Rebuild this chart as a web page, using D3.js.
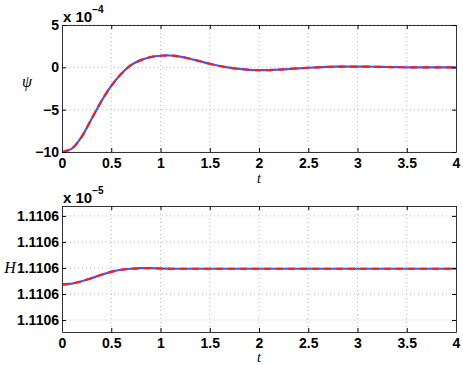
<!DOCTYPE html>
<html>
<head>
<meta charset="utf-8">
<script src="https://cdn.jsdelivr.net/npm/d3@7"></script>
<style>
  body { margin: 0; background: #fff; }
  .tick text { font-family: "Liberation Sans", Arial, sans-serif; font-weight: bold; font-size: 14px; fill: #000; }
  .grid line { stroke: #bbb; stroke-dasharray: 1,3; }
</style>
</head>
<body>
<div id="chart"></div>
<script>
// time samples shared by both panels
const tValues = [0, 0.1, 0.2, 0.3, 0.4, 0.5, 0.6, 0.7, 0.8, 0.9, 1.0, 1.1, 1.2, 1.3, 1.4, 1.5, 1.6, 1.7, 1.8, 1.9,
                 2.0, 2.1, 2.2, 2.3, 2.4, 2.5, 2.6, 2.7, 2.8, 2.9, 3.0, 3.1, 3.2, 3.3, 3.4, 3.5, 3.6, 3.7, 3.8, 3.9, 4.0];
// psi, in units of 1e-4
const psiValues = [-10, -9.6, -8.2, -6.1, -4.0, -2.2, -0.8, 0.25, 0.85, 1.2, 1.37, 1.4, 1.27, 1.02, 0.72, 0.42, 0.16, -0.04, -0.19, -0.29,
                   -0.33, -0.32, -0.27, -0.2, -0.12, -0.05, 0.0, 0.05, 0.08, 0.09, 0.09, 0.08, 0.06, 0.04, 0.02, 0.0, -0.01, -0.01, -0.01, 0, 0];
// H, in units of 1e-5
const hValues = [1.11059936, 1.11059940, 1.11059949, 1.11059961, 1.11059974, 1.11059985, 1.11059993, 1.11059997, 1.11059999, 1.11059999,
                 1.11059998, 1.11059997, 1.11059997, 1.11059997, 1.11059997, 1.11059997, 1.11059997, 1.11059997, 1.11059997, 1.11059997,
                 1.11059997, 1.11059997, 1.11059997, 1.11059997, 1.11059997, 1.11059997, 1.11059997, 1.11059997, 1.11059997, 1.11059997,
                 1.11059997, 1.11059997, 1.11059997, 1.11059997, 1.11059997, 1.11059997, 1.11059997, 1.11059997, 1.11059997, 1.11059997, 1.11059997];

const xTicks = [0, 0.5, 1, 1.5, 2, 2.5, 3, 3.5, 4];
const psiTicks = [-10, -5, 0, 5];
const hTicks = [1.110598, 1.110599, 1.1106, 1.110601, 1.110602];

const width = 463, height = 365;
const left = 62, right = 456;

const svg = d3.select('#chart').append('svg')
    .attr('width', width)
    .attr('height', height);

const x = d3.scaleLinear().domain([0, 4]).range([left, right]);

function panel(opts) {
    const y = d3.scaleLinear().domain(opts.domain).range([opts.bottom, opts.top]);
    const g = svg.append('g');

    // dotted grid
    const grid = g.append('g').attr('class', 'grid');
    grid.selectAll('.gx').data(xTicks.slice(1, -1)).join('line')
        .attr('x1', d => x(d)).attr('x2', d => x(d))
        .attr('y1', opts.top).attr('y2', opts.bottom);
    grid.selectAll('.gy').data(opts.ticks).join('line')
        .attr('x1', left).attr('x2', right)
        .attr('y1', d => y(d)).attr('y2', d => y(d));

    // data: blue solid under red dashed
    const line = d3.line().x((d, i) => x(tValues[i])).y(d => y(d)).curve(d3.curveCatmullRom);
    g.append('path').datum(opts.values)
        .attr('fill', 'none').attr('stroke', '#3b5bff').attr('stroke-width', 2.2)
        .attr('d', line);
    g.append('path').datum(opts.values)
        .attr('fill', 'none').attr('stroke', '#ff1a1a').attr('stroke-width', 2.2)
        .attr('stroke-dasharray', '7,5')
        .attr('d', line);

    // axes with inward ticks on all sides
    g.append('g').attr('transform', `translate(0,${opts.bottom})`)
        .call(d3.axisBottom(x).tickValues(xTicks).tickSizeInner(-4).tickSizeOuter(0).tickPadding(6).tickFormat(d3.format('')))
        .call(a => a.select('.domain').attr('stroke', '#333'));
    g.append('g').attr('transform', `translate(0,${opts.top})`)
        .call(d3.axisTop(x).tickValues(xTicks).tickSizeInner(-4).tickSizeOuter(0).tickFormat(''))
        .call(a => a.select('.domain').attr('stroke', '#333'));
    g.append('g').attr('transform', `translate(${left},0)`)
        .call(d3.axisLeft(y).tickValues(opts.ticks).tickSizeInner(-4).tickSizeOuter(0).tickPadding(3).tickFormat(opts.format))
        .call(a => a.select('.domain').attr('stroke', '#333'));
    g.append('g').attr('transform', `translate(${right},0)`)
        .call(d3.axisRight(y).tickValues(opts.ticks).tickSizeInner(-4).tickSizeOuter(0).tickFormat(''))
        .call(a => a.select('.domain').attr('stroke', '#333'));

    // exponent note
    const ex = g.append('text')
        .attr('x', left + 1).attr('y', opts.top - 3)
        .style('font-family', '"Liberation Sans", Arial, sans-serif')
        .style('font-weight', 'bold').style('font-size', '15px');
    ex.append('tspan').text('x 10');
    ex.append('tspan').attr('dy', -9).style('font-size', '10px').text(opts.exp);

    // axis titles
    g.append('text')
        .attr('x', x(2)).attr('y', opts.bottom + opts.tOffset)
        .attr('text-anchor', 'middle')
        .style('font-family', '"Liberation Serif", serif').style('font-style', 'italic').style('font-size', '14px')
        .text('t');
    g.append('text')
        .attr('x', opts.labelX).attr('y', opts.labelY)
        .attr('text-anchor', 'middle')
        .style('font-family', '"Liberation Serif", serif').style('font-style', 'italic').style('font-size', '16px')
        .text(opts.label);
}

panel({
    top: 25, bottom: 152, domain: [-10, 5], ticks: psiTicks, values: psiValues,
    format: d => d < 0 ? '\u2212' + Math.abs(d) : d, exp: '\u22124',
    label: '\u03c8', labelX: 27, labelY: 87, tOffset: 31
});

panel({
    top: 206, bottom: 332, domain: [1.11059754, 1.11060238], ticks: hTicks, values: hValues,
    format: d3.format('.4f'), exp: '\u22125',
    label: 'H', labelX: 10, labelY: 273, tOffset: 30
});
</script>
</body>
</html>
